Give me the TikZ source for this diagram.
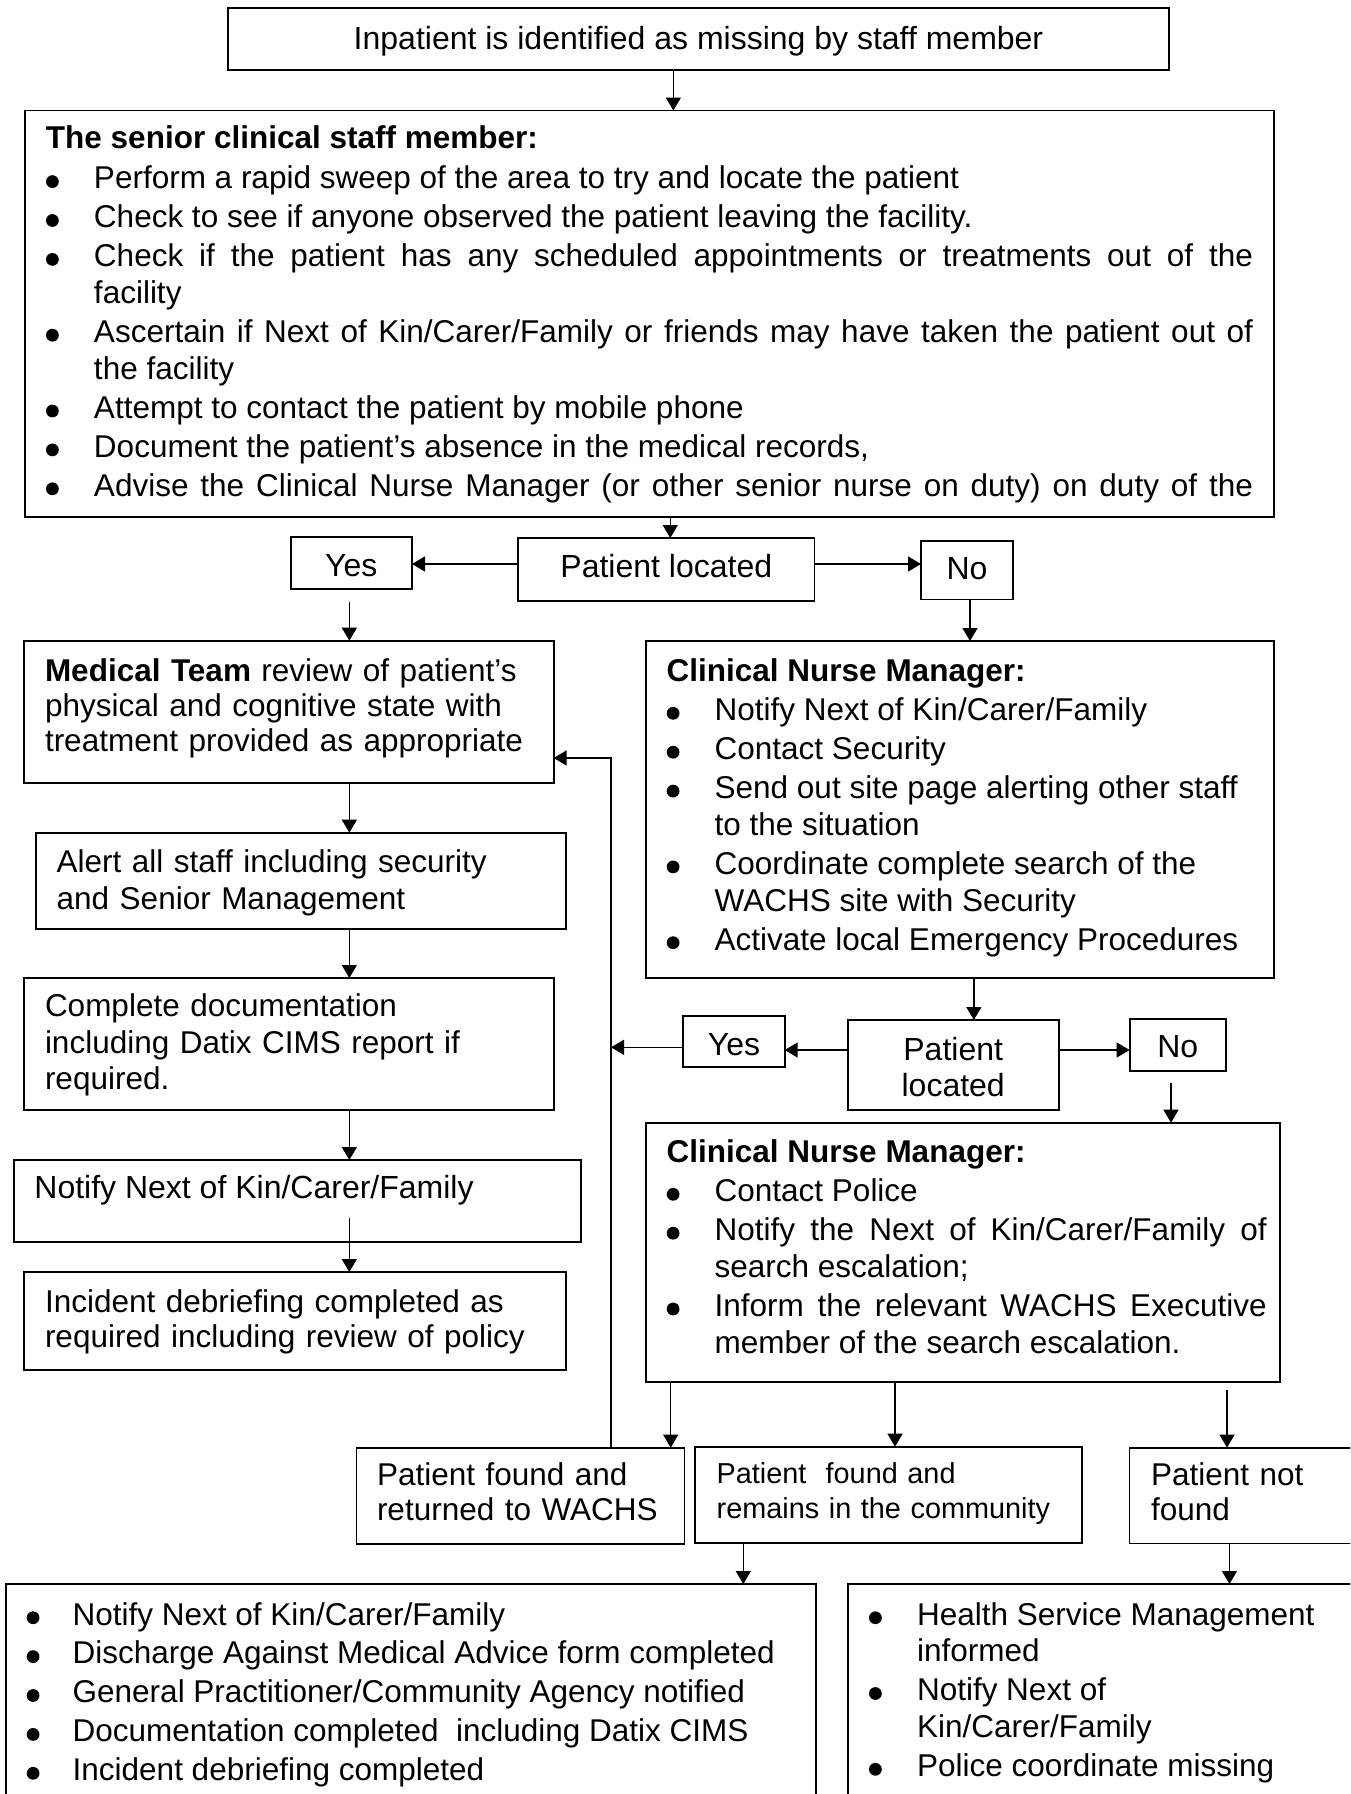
\documentclass[tikz,border=0pt]{standalone}
\usepackage{fontspec}
\setmainfont{Liberation Sans}
\usetikzlibrary{arrows.meta,calc}
\newlength\bulind
\setlength\bulind{24pt}
\newcommand\bdot{\tikz[baseline=0pt]\fill (3.25pt,3.65pt) circle[radius=3.2pt];}
\newcommand\bulf[1]{\hangindent=\bulind\hangafter=1\makebox[\bulind][l]{\bdot}#1\par}
\newcommand\bul[1]{\par\noindent\bulf{#1}}
\newcommand\bx[5]{\node[box,anchor=north west,minimum width={(#4-#2)*0.5pt},minimum height={(#5-#3)*0.5pt}] (#1) at (#2,#3) {};}
\tikzset{
  box/.style={draw,rectangle,line width=0.9pt,inner sep=0pt,outer sep=0pt},
  txt/.style={inner sep=0pt,outer sep=0pt,font=\fontsize{16pt}{18.25pt}\selectfont},
  mtxt/.style={txt,align=left,font=\fontsize{15.75pt}{#1}\selectfont},
  lst/.style={txt,align=justify,font=\fontsize{15.75pt}{18.45pt}\selectfont,
    execute at begin node={\setlength\parskip{1pt}\hyphenpenalty=10000\exhyphenpenalty=10000}},
  arr/.style={line width=0.65pt,-{Triangle[length=6.5pt,width=7.5pt]}},
}
\begin{document}
\begin{tikzpicture}[x=0.5pt,y=-0.5pt]
\useasboundingbox (0,0) rectangle (1350,1794);
\clip (0,0) rectangle (1350,1794);
\fill[white] (0,0) rectangle (1350,1794);
% boxes
\bx{top}{227.7}{8}{1169}{69.8}
\bx{big}{25}{110.5}{1274}{517}
\bx{PL1}{518}{538}{814.5}{600.6}
\bx{Yes1}{290.7}{536.7}{412}{588.7}
\bx{No1}{921}{541}{1013}{599.5}
\bx{Med}{24}{640.7}{553.6}{783.3}
\bx{CNM1}{645.7}{641}{1274}{977.7}
\bx{Alert}{35.7}{832.7}{565.6}{929.2}
\bx{Comp}{24}{978}{553.6}{1110.3}
\bx{Yes2}{683.3}{1015.7}{784.7}{1067.3}
\bx{PL2}{847.7}{1020}{1058.7}{1110}
\bx{No2}{1129.6}{1019}{1226}{1071}
\bx{Notify}{14}{1160}{581}{1241.7}
\bx{CNM2}{645.7}{1122.7}{1280}{1381.7}
\bx{Inc}{24}{1272}{565.6}{1370}
\bx{FR}{356.4}{1447.7}{684.4}{1544}
\bx{Comm}{695.3}{1446.7}{1082.3}{1543.3}
\bx{NF}{1129.5}{1447.6}{1370}{1543.5}
\bx{BL}{6}{1584}{815.7}{1820}
\bx{BR}{847.7}{1584}{1370}{1820}
% texts
\node[txt,anchor=base] (t-top) at (698.5,49) {Inpatient is identified as missing by staff member};
\node[lst,anchor=base west,text width=603.5pt] (t-big) at (46,148) {\textbf{The senior clinical staff member:}\par\vspace{1pt}
\bul{Perform a rapid sweep of the area to try and locate the patient}
\bul{Check to see if anyone observed the patient leaving the facility.}
\bul{Check if the patient has any scheduled appointments or treatments out of the\linebreak facility}
\bul{Ascertain if Next of Kin/Carer/Family or friends may have taken the patient out of\linebreak the facility}
\bul{Attempt to contact the patient by mobile phone}
\bul{Document the patient’s absence in the medical records,}
{\parfillskip=0pt \bul{Advise the Clinical Nurse Manager (or other senior nurse on duty) on duty of the}}};
\node[txt,anchor=base] (t-PL1) at (666.3,577) {Patient located};
\node[txt,anchor=base] (t-Yes1) at (351.3,576.7) {Yes};
\node[txt,anchor=base] (t-No1) at (967,579) {No};
\node[mtxt=17.5pt,anchor=base west,text width=260pt] (t-Med) at (45,681.7) {\textbf{Medical Team} review of patient’s\\ physical and cognitive state with\\ treatment provided as appropriate};
\node[lst,anchor=base west,text width=299pt] (t-CNM1) at (666.7,681.7) {\textbf{Clinical Nurse Manager:}
\bul{Notify Next of Kin/Carer/Family}
\bul{Contact Security}
\bul{Send out site page alerting other staff\newline to the situation}
\bul{Coordinate complete search of the\newline WACHS site with Security}
\bul{Activate local Emergency Procedures}};
\node[mtxt=18.3pt,anchor=base west,text width=260pt] (t-Alert) at (56.7,872.7) {Alert all staff including security\\ and Senior Management};
\node[mtxt=18.2pt,anchor=base west,text width=250pt] (t-Comp) at (45,1016.7) {Complete documentation\\ including Datix CIMS report if\\ required.};
\node[txt,anchor=base] (t-Yes2) at (734,1055) {Yes};
\node[txt,anchor=base,text width=100pt,align=center,font=\fontsize{16pt}{18pt}\selectfont] (t-PL2) at (953.2,1060.7) {Patient\\located};
\node[txt,anchor=base] (t-No2) at (1177.8,1057) {No};
\node[txt,anchor=base west] (t-Notify) at (34.4,1198) {Notify Next of Kin/Carer/Family};
\node[lst,anchor=base west,text width=300pt] (t-CNM2) at (666.7,1162.7) {\textbf{Clinical Nurse Manager:}
\bul{Contact Police}
\bul{Notify the Next of Kin/Carer/Family of\linebreak search escalation;}
\bul{Inform the relevant WACHS Executive\linebreak member of the search escalation.}};
\node[mtxt=17.5pt,anchor=base west,text width=260pt] (t-Inc) at (45,1312) {Incident debriefing completed as\\ required including review of policy};
\node[mtxt=17.8pt,anchor=base west,text width=150pt] (t-FR) at (377,1485) {Patient found and\\ returned to WACHS};
\node[txt,anchor=base west,text width=180pt,align=left,font=\fontsize{14.42pt}{17.5pt}\selectfont] (t-Comm) at (716.7,1483.3) {Patient\ \ found and\\ remains in the community};
\node[mtxt=17.8pt,anchor=base west,text width=95pt] (t-NF) at (1151,1485) {Patient not\\ found};
\setlength\bulind{23pt}
\node[lst,anchor=base west,text width=390pt] (t-BL) at (26.7,1625) {\bulf{Notify Next of Kin/Carer/Family}
\bul{Discharge Against Medical Advice form completed}
\bul{General Practitioner/Community Agency notified}
\bul{Documentation completed\ \ including Datix CIMS}
\bul{Incident debriefing completed}};
\setlength\bulind{24pt}
\node[lst,anchor=base west,text width=235pt] (t-BR) at (869,1625) {\bulf{Health Service Management\newline informed}
\bul{Notify Next of\newline Kin/Carer/Family}
\bul{Police coordinate missing}};
% connector anchor points
\coordinate (c1) at ($(top.south)+(-25,0)$);
\coordinate (c2) at ($(PL1.north)+(4,0)$);
\coordinate (c3) at ($(PL1.west)+(0,-5.3)$);
\coordinate (c4) at ($(PL1.east)+(0,-5.3)$);
\coordinate (c5) at ($(Yes1.south)+(-2,13)$);
\coordinate (c6) at ($(No1.south)+(3,0)$);
\coordinate (c10) at ($(Notify.south)+(51.8,-23.7)$);
\coordinate (c11) at ($(CNM1.south)+(14,0)$);
\coordinate (c12) at ($(PL2.west)+(0,-15)$);
\coordinate (c13) at ($(PL2.east)+(0,-15)$);
\coordinate (ret) at ($(FR.north)+(90.6,0)$);
\coordinate (c14) at ($(Med.east)+(0,46)$);
\coordinate (c15) at ($(Yes2.west)+(0,5.8)$);
\coordinate (c16) at ($(No2.south)+(-6.8,11.5)$);
\coordinate (c17) at ($(CNM2.south west)+(25,0)$);
\coordinate (c18) at ($(Comm.north)+(6.2,0)$);
\coordinate (c19) at ($(NF.north west)+(97.5,-57.6)$);
\coordinate (c20) at ($(Comm.south)+(-145.5,0)$);
\coordinate (c21) at ($(NF.south west)+(100,0)$);
% connectors
\draw[arr] (c1) -- (c1 |- big.north);
\draw[arr] (c2 |- big.south) -- (c2);
\draw[arr] (c3) -- (c3 -| Yes1.east);
\draw[arr] (c4) -- (c4 -| No1.west);
\draw[arr] (c5) -- (c5 |- Med.north);
\draw[arr] (c6) -- (c6 |- CNM1.north);
\draw[arr] (c5 |- Med.south) -- (c5 |- Alert.north);
\draw[arr] (c5 |- Alert.south) -- (c5 |- Comp.north);
\draw[arr] (c5 |- Comp.south) -- (c5 |- Notify.north);
\draw[arr] (c10) -- (c10 |- Inc.north);
\draw[arr] (c11) -- (c11 |- PL2.north);
\draw[arr] (c12) -- (c12 -| Yes2.east);
\draw[arr] (c13) -- (c13 -| No2.west);
\draw[arr] (ret) |- (c14);
\draw[arr] (c15) -- (c15 -| ret);
\draw[arr] (c16) -- (c16 |- CNM2.north);
\draw[arr] (c17) -- (c17 |- FR.north);
\draw[arr] (c18 |- CNM2.south) -- (c18);
\draw[arr] (c19) -- (c19 |- NF.north);
\draw[arr] (c20) -- (c20 |- BL.north);
\draw[arr] (c21) -- (c21 |- BR.north);
\end{tikzpicture}
\end{document}
